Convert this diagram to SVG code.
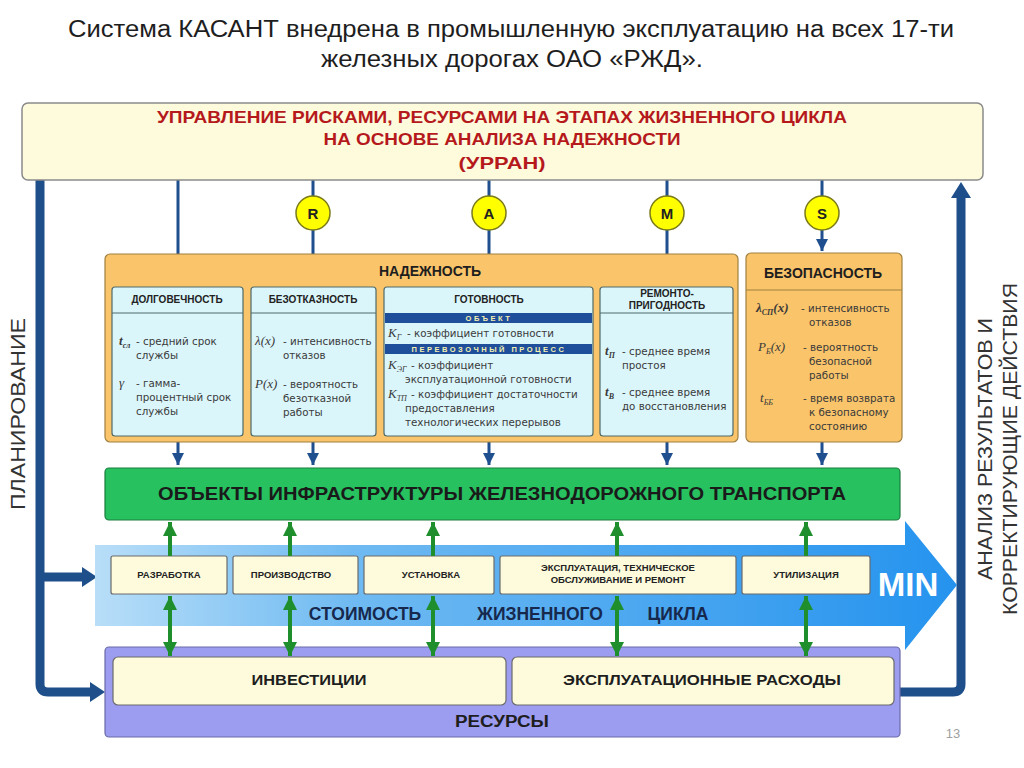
<svg xmlns="http://www.w3.org/2000/svg" width="1024" height="768" viewBox="0 0 1024 768">
<defs>
<linearGradient id="blueArrow" x1="0" x2="1" y1="0" y2="0">
<stop offset="0" stop-color="#b8def8"/>
<stop offset="0.3" stop-color="#6fbaf2"/>
<stop offset="1" stop-color="#2593ee"/>
</linearGradient>
<marker id="navy" markerUnits="userSpaceOnUse" markerWidth="14" markerHeight="14" refX="12" refY="7" orient="auto">
<path d="M0,1 L12,7 L0,13 z" fill="#1f4f8f"/>
</marker>
<marker id="green" markerUnits="userSpaceOnUse" markerWidth="16" markerHeight="16" refX="14" refY="8" orient="auto-start-reverse">
<path d="M0,1 L14,8 L0,15 z" fill="#1e8f2c"/>
</marker>
</defs>
<style>
text{font-family:"Liberation Sans",Arial,sans-serif}
.title{font-size:23px;fill:#1e1e1e;text-anchor:middle}
.red{font-family:"Liberation Sans Narrow","Liberation Sans",Arial,sans-serif;font-weight:bold;font-size:17px;fill:#b5191c;text-anchor:middle}
.sub{fill:#dbf6fa;stroke:#4f6b6b;stroke-width:1.2}
.hdr{font-weight:bold;font-size:10px;fill:#222;text-anchor:middle}
.big{font-weight:bold;font-size:14px;fill:#1e1e1e;text-anchor:middle}
.txt{font-family:"DejaVu Sans",Verdana,sans-serif;font-size:10.3px;fill:#3a3a3a}
.sym{font-family:"Liberation Serif","Times New Roman",serif;font-style:italic;font-size:13px;fill:#3a3a3a}
.sm{font-size:8px}
.band{fill:#1f4e9a}
.bandt{font-weight:bold;font-size:7.5px;fill:#f3f0b0;text-anchor:middle;letter-spacing:2.5px}
.cream{fill:#fdfbdc;stroke:#6b6b6b;stroke-width:1.2}
.proc{font-weight:bold;font-size:9.5px;fill:#222;text-anchor:middle}
.circ{fill:#ffff00;stroke:#7a7a1a;stroke-width:1.5}
.letter{font-weight:bold;font-size:15px;fill:#222;text-anchor:middle}
.nv{stroke:#1f4f8f;stroke-width:3;fill:none}
.gr{stroke:#1e8f2c;stroke-width:4;fill:none}
.th{stroke:#1f4f8a;stroke-width:9;fill:none;stroke-linejoin:round}
.head{fill:#1f4f8a}
.side{font-size:20px;fill:#333;text-anchor:middle}
</style>
<rect width="1024" height="768" fill="#ffffff"/>

<g id="title">
<text class="title" x="511" y="37" textLength="886" lengthAdjust="spacingAndGlyphs">Система КАСАНТ внедрена в промышленную эксплуатацию на всех 17-ти</text>
<text class="title" x="512" y="67" textLength="382" lengthAdjust="spacingAndGlyphs">железных дорогах ОАО «РЖД».</text>
</g>

<g id="side-labels">
<text class="side" transform="translate(25,414) rotate(-90)" textLength="192" lengthAdjust="spacingAndGlyphs">ПЛАНИРОВАНИЕ</text>
<text class="side" transform="translate(992,449) rotate(-90)" textLength="262" lengthAdjust="spacingAndGlyphs">АНАЛИЗ РЕЗУЛЬТАТОВ И</text>
<text class="side" transform="translate(1017,449) rotate(-90)" textLength="332" lengthAdjust="spacingAndGlyphs">КОРРЕКТИРУЮЩИЕ ДЕЙСТВИЯ</text>
</g>

<g id="connectors">
<path class="th" d="M40,180 V684 Q40,692 48,692 H92"/>
<path class="head" d="M90,682 L105,692 L90,702 z"/>
<path class="th" d="M40,577 H84"/>
<path class="head" d="M82,567 L97,577 L82,587 z"/>
<path class="th" d="M900,692 H953 Q961,692 961,684 V196"/>
<path class="head" d="M951,198 L961,182 L971,198 z"/>
<line class="nv" x1="178" y1="180" x2="178" y2="285" marker-end="url(#navy)"/>
<line class="nv" x1="313" y1="180" x2="313" y2="285" marker-end="url(#navy)"/>
<line class="nv" x1="489" y1="180" x2="489" y2="285" marker-end="url(#navy)"/>
<line class="nv" x1="667" y1="180" x2="667" y2="285" marker-end="url(#navy)"/>
<line class="nv" x1="822" y1="180" x2="822" y2="251" marker-end="url(#navy)"/>
<line class="nv" x1="178" y1="436" x2="178" y2="465" marker-end="url(#navy)"/>
<line class="nv" x1="313" y1="436" x2="313" y2="465" marker-end="url(#navy)"/>
<line class="nv" x1="489" y1="436" x2="489" y2="465" marker-end="url(#navy)"/>
<line class="nv" x1="667" y1="436" x2="667" y2="465" marker-end="url(#navy)"/>
<line class="nv" x1="822" y1="442" x2="822" y2="465" marker-end="url(#navy)"/>
</g>

<g id="top-box">
<rect x="22" y="103" width="961" height="77" rx="6" fill="#fdfbdc" stroke="#8a8a8a" stroke-width="1.5"/>
<text class="red" x="502" y="123" textLength="690" lengthAdjust="spacingAndGlyphs">УПРАВЛЕНИЕ РИСКАМИ,  РЕСУРСАМИ НА ЭТАПАХ ЖИЗНЕННОГО ЦИКЛА</text>
<text class="red" x="502" y="145" textLength="357" lengthAdjust="spacingAndGlyphs">НА ОСНОВЕ АНАЛИЗА НАДЕЖНОСТИ</text>
<text class="red" x="502" y="169" textLength="87" lengthAdjust="spacingAndGlyphs">(УРРАН)</text>
</g>

<g id="circle-R"><circle class="circ" cx="313" cy="213" r="17"/><text class="letter" x="313" y="219">R</text></g>
<g id="circle-A"><circle class="circ" cx="489" cy="213" r="17"/><text class="letter" x="489" y="219">A</text></g>
<g id="circle-M"><circle class="circ" cx="667" cy="213" r="17"/><text class="letter" x="667" y="219">M</text></g>
<g id="circle-S"><circle class="circ" cx="822" cy="213" r="17"/><text class="letter" x="822" y="219">S</text></g>

<g id="reliability">
<rect x="105" y="254" width="633" height="188" rx="5" fill="#f9c46a" stroke="#a08040" stroke-width="1.2"/>
<text class="big" x="430" y="276">НАДЕЖНОСТЬ</text>
</g>

<g id="durability">
<rect class="sub" x="112" y="287" width="131" height="149" rx="3"/>
<line x1="112" y1="313" x2="243" y2="313" stroke="#4f6b6b" stroke-width="1.2"/>
<text class="hdr" x="177" y="303">ДОЛГОВЕЧНОСТЬ</text>
<text class="sym" x="119" y="345" font-weight="bold">t<tspan class="sm" dy="3">сл</tspan></text>
<text class="txt" x="136" y="345">- средний срок</text>
<text class="txt" x="136" y="359">службы</text>
<text class="sym" x="119" y="387">γ</text>
<text class="txt" x="136" y="387">- гамма-</text>
<text class="txt" x="136" y="401">процентный срок</text>
<text class="txt" x="136" y="415">службы</text>
</g>

<g id="reliability-fault">
<rect class="sub" x="251" y="287" width="125" height="149" rx="3"/>
<line x1="251" y1="313" x2="376" y2="313" stroke="#4f6b6b" stroke-width="1.2"/>
<text class="hdr" x="313" y="303">БЕЗОТКАЗНОСТЬ</text>
<text class="sym" x="255" y="345">λ(x)</text>
<text class="txt" x="283" y="345">- интенсивность</text>
<text class="txt" x="283" y="359">отказов</text>
<text class="sym" x="255" y="388">P(x)</text>
<text class="txt" x="283" y="388">- вероятность</text>
<text class="txt" x="283" y="402">безотказной</text>
<text class="txt" x="283" y="416">работы</text>
</g>

<g id="availability">
<rect class="sub" x="384" y="287" width="209" height="149" rx="3"/>
<text class="hdr" x="489" y="303">ГОТОВНОСТЬ</text>
<rect class="band" x="385" y="313" width="207" height="10"/>
<text class="bandt" x="489" y="321">ОБЪЕКТ</text>
<text class="sym" x="388" y="337">K<tspan class="sm" dy="3">Г</tspan></text>
<text class="txt" x="407" y="337">- коэффициент готовности</text>
<rect class="band" x="385" y="344" width="207" height="10"/>
<text class="bandt" x="489" y="352">ПЕРЕВОЗОЧНЫЙ ПРОЦЕСС</text>
<text class="sym" x="388" y="369">K<tspan class="sm" dy="3">ЭГ</tspan></text>
<text class="txt" x="411" y="369">- коэффициент</text>
<text class="txt" x="405" y="383">эксплуатационной готовности</text>
<text class="sym" x="388" y="398">K<tspan class="sm" dy="3">ТП</tspan></text>
<text class="txt" x="411" y="398">- коэффициент достаточности</text>
<text class="txt" x="405" y="412">предоставления</text>
<text class="txt" x="405" y="426">технологических перерывов</text>
</g>

<g id="maintainability">
<rect class="sub" x="600" y="287" width="133" height="149" rx="3"/>
<line x1="600" y1="313" x2="733" y2="313" stroke="#4f6b6b" stroke-width="1.2"/>
<text class="hdr" x="667" y="297">РЕМОНТО-</text>
<text class="hdr" x="667" y="309">ПРИГОДНОСТЬ</text>
<text class="sym" x="605" y="355" font-weight="bold">t<tspan class="sm" dy="3">П</tspan></text>
<text class="txt" x="622" y="355">- среднее время</text>
<text class="txt" x="622" y="369">простоя</text>
<text class="sym" x="605" y="396" font-weight="bold">t<tspan class="sm" dy="3">В</tspan></text>
<text class="txt" x="622" y="396">- среднее время</text>
<text class="txt" x="622" y="410">до восстановления</text>
</g>

<g id="safety">
<rect x="746" y="253" width="156" height="189" rx="5" fill="#f9c46a" stroke="#a08040" stroke-width="1.2"/>
<line x1="746" y1="290" x2="902" y2="290" stroke="#a08040" stroke-width="1.2"/>
<text class="big" x="823" y="278" font-size="15">БЕЗОПАСНОСТЬ</text>
<text class="sym" x="756" y="312" font-weight="bold">λ<tspan class="sm" dy="3">СП</tspan><tspan dy="-3">(x)</tspan></text>
<text class="txt" x="801" y="312">- интенсивность</text>
<text class="txt" x="809" y="326">отказов</text>
<text class="sym" x="758" y="351">P<tspan class="sm" dy="3">Б</tspan><tspan dy="-3">(x)</tspan></text>
<text class="txt" x="803" y="351">- вероятность</text>
<text class="txt" x="809" y="365">безопасной</text>
<text class="txt" x="809" y="379">работы</text>
<text class="sym" x="760" y="402">t<tspan class="sm" dy="3">ББ</tspan></text>
<text class="txt" x="803" y="402">- время возврата</text>
<text class="txt" x="809" y="416">к безопасному</text>
<text class="txt" x="809" y="430">состоянию</text>
</g>

<g id="infrastructure">
<rect x="105" y="468" width="795" height="52" rx="4" fill="#27c160" stroke="#1a7f3e" stroke-width="1.2"/>
<text x="502" y="500" font-weight="bold" font-size="17.5" fill="#1a1a1a" text-anchor="middle" textLength="688" lengthAdjust="spacingAndGlyphs">ОБЪЕКТЫ ИНФРАСТРУКТУРЫ ЖЕЛЕЗНОДОРОЖНОГО ТРАНСПОРТА</text>
</g>

<g id="lifecycle-arrow">
<path d="M95,545 H905 V521 L957,585 L905,650 V626 H95 Z" fill="url(#blueArrow)"/>
<text x="908" y="596" font-weight="bold" font-size="33" fill="#ffffff" text-anchor="middle">MIN</text>
<text x="365" y="620" font-weight="bold" font-size="17.5" fill="#17284d" text-anchor="middle">СТОИМОСТЬ</text>
<text x="540" y="620" font-weight="bold" font-size="17.5" fill="#17284d" text-anchor="middle">ЖИЗНЕННОГО</text>
<text x="678" y="620" font-weight="bold" font-size="17.5" fill="#17284d" text-anchor="middle">ЦИКЛА</text>
</g>

<g id="stage-development"><rect class="cream" x="111" y="556" width="116" height="38" rx="2"/><text class="proc" x="169" y="578">РАЗРАБОТКА</text></g>
<g id="stage-production"><rect class="cream" x="233" y="556" width="125" height="38" rx="2"/><text class="proc" x="291" y="578">ПРОИЗВОДСТВО</text></g>
<g id="stage-installation"><rect class="cream" x="364" y="556" width="130" height="38" rx="2"/><text class="proc" x="431" y="578">УСТАНОВКА</text></g>
<g id="stage-operation"><rect class="cream" x="500" y="556" width="236" height="38" rx="2"/><text class="proc" x="618" y="571">ЭКСПЛУАТАЦИЯ, ТЕХНИЧЕСКОЕ</text><text class="proc" x="618" y="583">ОБСЛУЖИВАНИЕ И РЕМОНТ</text></g>
<g id="stage-disposal"><rect class="cream" x="742" y="556" width="128" height="38" rx="2"/><text class="proc" x="806" y="578">УТИЛИЗАЦИЯ</text></g>

<g id="resources">
<rect x="105" y="647" width="795" height="90" rx="4" fill="#9c9cf0" stroke="#6a6aa8" stroke-width="1.2"/>
<rect class="cream" x="113" y="657" width="393" height="48" rx="5"/>
<rect class="cream" x="512" y="657" width="382" height="48" rx="5"/>
<text x="309" y="685" font-weight="bold" font-size="15" fill="#1e1e1e" text-anchor="middle" textLength="115" lengthAdjust="spacingAndGlyphs">ИНВЕСТИЦИИ</text>
<text x="702" y="685" font-weight="bold" font-size="15" fill="#1e1e1e" text-anchor="middle" textLength="278" lengthAdjust="spacingAndGlyphs">ЭКСПЛУАТАЦИОННЫЕ РАСХОДЫ</text>
<text x="502" y="727" font-weight="bold" font-size="16" fill="#1e1e1e" text-anchor="middle" textLength="94" lengthAdjust="spacingAndGlyphs">РЕСУРСЫ</text>
</g>

<g id="green-connectors">
<line class="gr" x1="170" y1="556" x2="170" y2="522" marker-end="url(#green)"/>
<line class="gr" x1="290" y1="556" x2="290" y2="522" marker-end="url(#green)"/>
<line class="gr" x1="433" y1="556" x2="433" y2="522" marker-end="url(#green)"/>
<line class="gr" x1="617" y1="556" x2="617" y2="522" marker-end="url(#green)"/>
<line class="gr" x1="806" y1="556" x2="806" y2="522" marker-end="url(#green)"/>
<line class="gr" x1="170" y1="596" x2="170" y2="656" marker-start="url(#green)" marker-end="url(#green)"/>
<line class="gr" x1="290" y1="596" x2="290" y2="656" marker-start="url(#green)" marker-end="url(#green)"/>
<line class="gr" x1="433" y1="596" x2="433" y2="656" marker-start="url(#green)" marker-end="url(#green)"/>
<line class="gr" x1="617" y1="596" x2="617" y2="656" marker-start="url(#green)" marker-end="url(#green)"/>
<line class="gr" x1="806" y1="596" x2="806" y2="656" marker-start="url(#green)" marker-end="url(#green)"/>
</g>

<text x="953" y="738" font-size="13" fill="#a0a0a0" text-anchor="middle">13</text>
</svg>
